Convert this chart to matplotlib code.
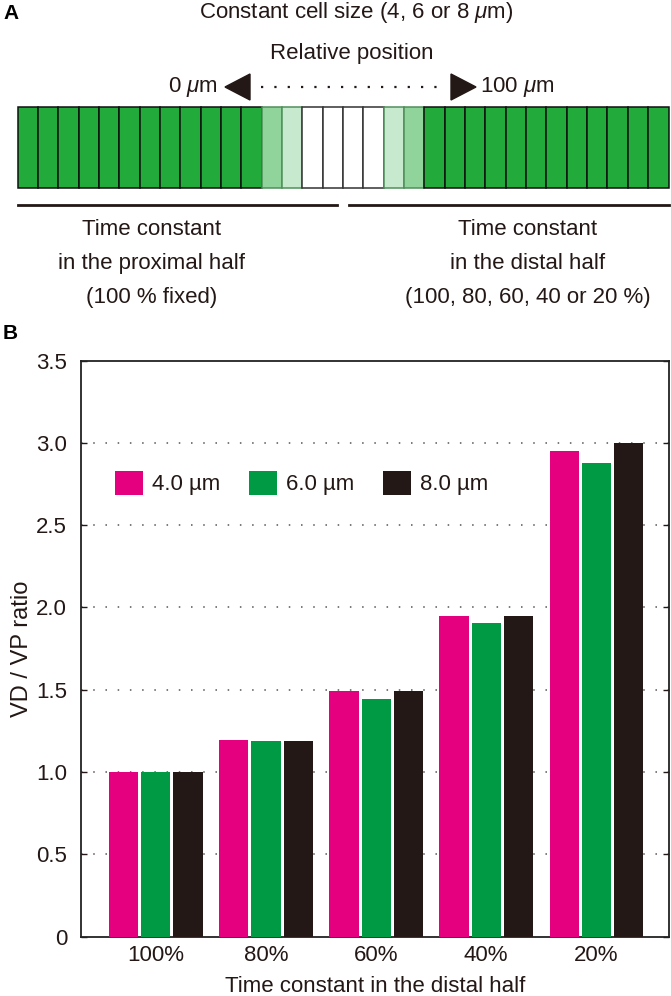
import matplotlib
matplotlib.use("Agg")
import matplotlib.pyplot as plt
from matplotlib.patches import Rectangle, Polygon, Patch
import numpy as np

plt.rcParams['font.family'] = ['Liberation Sans', 'DejaVu Sans']
plt.rcParams['mathtext.fontset'] = 'custom'
plt.rcParams['mathtext.rm'] = 'Liberation Sans'
plt.rcParams['mathtext.it'] = 'Liberation Sans:italic'

# ---------------- data ----------------
categories = ['100%', '80%', '60%', '40%', '20%']
series_names = ['4.0 µm', '6.0 µm', '8.0 µm']
vals_4um = [1.00, 1.195, 1.49, 1.945, 2.95]
vals_6um = [1.00, 1.19, 1.445, 1.905, 2.875]
vals_8um = [1.00, 1.19, 1.49, 1.945, 3.00]
yticks = [0, 0.5, 1.0, 1.5, 2.0, 2.5, 3.0, 3.5]
ytick_labels = ['0', '0.5', '1.0', '1.5', '2.0', '2.5', '3.0', '3.5']

# cell strip of panel A (0 = green, 1 = medium light, 2 = light, 3 = white)
cell_kinds = [0] * 12 + [1, 2, 3, 3, 3, 3, 2, 1] + [0] * 12

PINK = '#E4007F'
GREEN = '#009944'
DARK = '#231815'
colors = [PINK, GREEN, DARK]
cell_face = {0: '#22AA3A', 1: '#90D49C', 2: '#C7EACE', 3: '#FFFFFF'}
cell_edge = {0: '#111111', 1: '#4f8f5a', 2: '#4f8f5a', 3: '#333333'}

W, H = 671, 996
fig = plt.figure(figsize=(W / 100, H / 100), dpi=100)

# ---------------- panel A (pixel-coordinate overlay) ----------------
ov = fig.add_axes([0, 0, 1, 1])
ov.set_xlim(0, W)
ov.set_ylim(H, 0)
ov.axis('off')

FS = 16
ov.text(3, 13, 'A', fontsize=15, fontweight='bold', va='center', ha='left', color='black')
ov.text(356, 12, r'Constant cell size (4, 6 or 8 $\mathit{\mu}$m)', fontsize=FS,
        ha='center', va='center', color=DARK)
ov.text(352, 53, 'Relative position', fontsize=FS, ha='center', va='center', color=DARK)
ov.text(218, 87, r'0 $\mathit{\mu}$m', fontsize=FS, ha='right', va='center', color=DARK)
ov.text(480, 87, r'100 $\mathit{\mu}$m', fontsize=FS, ha='left', va='center', color=DARK)
ov.add_patch(Polygon([[225, 87], [250, 74], [250, 100]], closed=True, color=DARK))
ov.add_patch(Polygon([[476, 87], [451, 74], [451, 100]], closed=True, color=DARK))
ov.plot([261, 446], [87, 87], linestyle=(0, (1, 5)), color=DARK, lw=1.6)

x0, x1 = 17.5, 668.5
cw = (x1 - x0) / len(cell_kinds)
top, bot = 107, 188
for i, k in enumerate(cell_kinds):
    ov.add_patch(Rectangle((x0 + i * cw, top), cw, bot - top,
                           facecolor=cell_face[k], edgecolor=cell_edge[k], lw=1.1))

ov.plot([18, 337], [205, 205], color=DARK, lw=2)
ov.plot([349, 669], [205, 205], color=DARK, lw=2)
for (cx, lines) in [(152, ['Time constant', 'in the proximal half', '(100 % fixed)']),
                    (528, ['Time constant', 'in the distal half', '(100, 80, 60, 40 or 20 %)'])]:
    for j, t in enumerate(lines):
        ov.text(cx, 229 + 34 * j, t, fontsize=FS, ha='center', va='center', color=DARK)

ov.text(3, 333, 'B', fontsize=15, fontweight='bold', va='center', ha='left', color='black')

# ---------------- panel B ----------------
ax_l, ax_r, ax_t, ax_b = 81, 669, 360.5, 936.7
ax = fig.add_axes([ax_l / W, 1 - ax_b / H, (ax_r - ax_l) / W, (ax_b - ax_t) / H])
x = np.arange(len(categories))
bw = 0.265
step = 0.292
for j, (vals, c) in enumerate(zip([vals_4um, vals_6um, vals_8um], colors)):
    ax.bar(x + (j - 1) * step, vals, width=bw, color=c, zorder=3, edgecolor='none')

ax.set_xlim(-0.68, 4.66)
ax.set_ylim(0, 3.5)
ax.set_yticks(yticks)
ax.set_yticklabels(ytick_labels)
ax.set_xticks(x)
ax.set_xticklabels(categories)
for yv in yticks[1:-1]:
    ax.axhline(yv, color='#555555', lw=1.1, linestyle=(0, (1, 7)), zorder=1)
ax.tick_params(axis='y', direction='in', length=4, width=1, labelsize=FS,
               right=True, colors=DARK, pad=10)
ax.tick_params(axis='x', length=0, labelsize=FS, colors=DARK, pad=6)
for s in ax.spines.values():
    s.set_color('#222222')
    s.set_linewidth(1.3)

ax.set_xlabel('Time constant in the distal half', fontsize=FS, color=DARK, labelpad=7)
ax.set_ylabel('VD / VP ratio', fontsize=FS + 1, color=DARK, labelpad=2)

handles = [Patch(facecolor=c, edgecolor='none') for c in colors]
leg = ax.legend(handles, series_names, ncol=3, loc='center left',
                bbox_to_anchor=(115 / W, 1 - 483 / H), bbox_transform=fig.transFigure,
                frameon=False, fontsize=FS, handlelength=1.26, handleheight=1.26,
                handletextpad=0.4, columnspacing=1.3, borderpad=0, borderaxespad=0)
for t in leg.get_texts():
    t.set_color(DARK)

fig.savefig('out.png', dpi=100)
